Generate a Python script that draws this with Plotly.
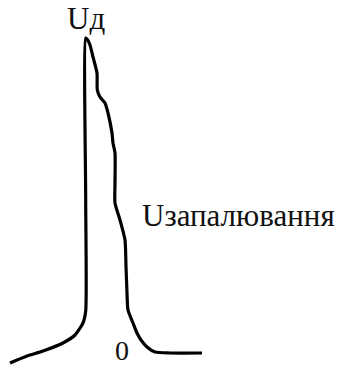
import plotly.graph_objects as go

# Curve (x to the right, y downward, in picture units)
curve_x = [10, 27, 43, 63, 75, 83, 85.7, 85.7, 85.7,
           87, 90, 93, 97, 97.3, 100, 105, 108, 112, 113, 115, 115,
           115, 120, 125, 126, 127, 128, 133, 137, 141, 147, 155, 170, 202]
curve_y = [363, 356, 351, 343, 335, 323, 311, 200, 38,
           39, 45, 57, 73, 90, 97, 103, 113, 133, 143, 153, 183,
           203, 220, 240, 266, 293, 310, 323, 333, 340, 347, 352, 353, 353]

label_text = ["Uд", "Uзапалювання", "0"]
label_x = [86, 140, 122]
label_y = [18, 215, 350]

fig = go.Figure()
fig.add_trace(go.Scatter(x=curve_x, y=curve_y, mode="lines",
                         line=dict(color="black", width=3.2, shape="spline", smoothing=0.6),
                         hoverinfo="skip", showlegend=False))

font = dict(family="'Liberation Serif', 'Times New Roman', serif", size=31, color="#111")
fig.add_annotation(x=label_x[0], y=label_y[0], text=label_text[0], showarrow=False,
                   xanchor="center", yanchor="middle", font=font)
fig.add_annotation(x=label_x[1], y=label_y[1], text=label_text[1], showarrow=False,
                   xanchor="left", yanchor="middle", font=font)
fig.add_annotation(x=label_x[2], y=label_y[2], text=label_text[2], showarrow=False,
                   xanchor="center", yanchor="middle", font=dict(font, size=28))

fig.update_layout(width=341, height=366, margin=dict(l=0, r=0, t=0, b=0),
                  paper_bgcolor="white", plot_bgcolor="white",
                  xaxis=dict(range=[0, 341], visible=False, fixedrange=True),
                  yaxis=dict(range=[366, 0], visible=False, fixedrange=True))

fig.write_html("out.html", config={"displayModeBar": False},
               post_script="document.body.style.margin='0';document.body.style.overflow='hidden';")
